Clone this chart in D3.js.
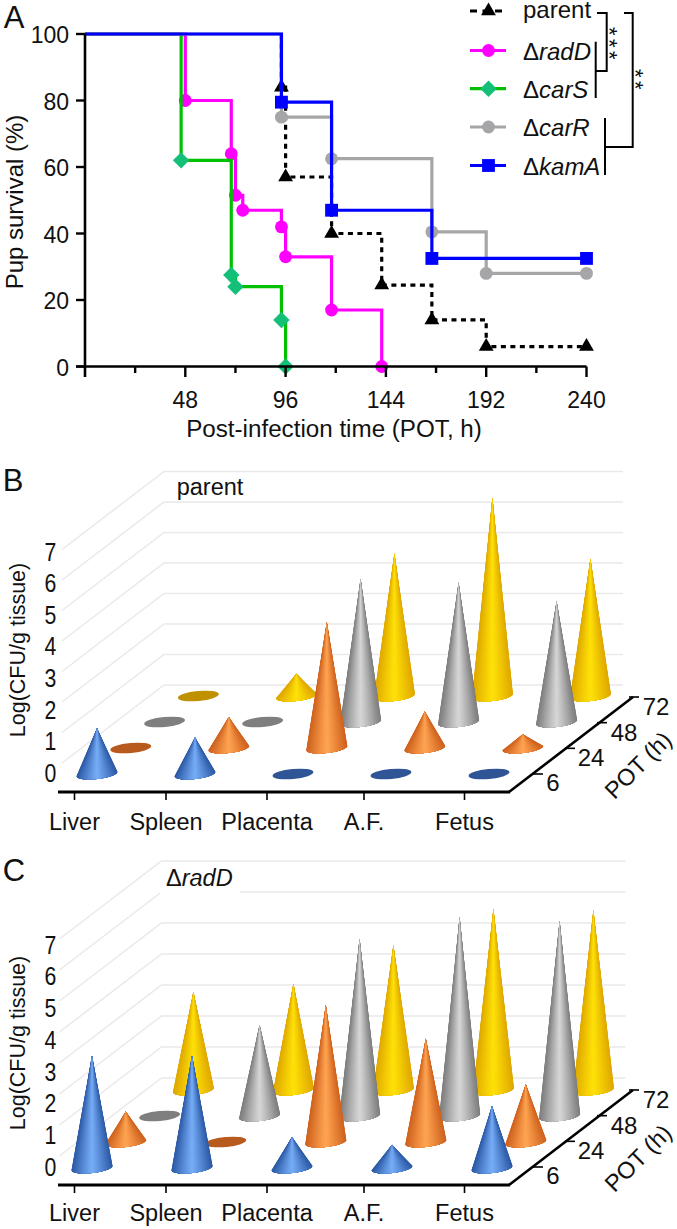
<!DOCTYPE html>
<html><head><meta charset="utf-8">
<script src="https://cdn.jsdelivr.net/npm/d3@7/dist/d3.min.js"></script>
<style>html,body{margin:0;background:#fff}svg{display:block}text{font-family:"Liberation Sans",Arial,sans-serif;fill:#111}</style>
</head><body><svg id="c" width="677" height="1229"></svg>
<script>
// Panel A data (hours, % survival)
const parentT=[94,96,118,142,166,192,240], parentS=[84,57,40,24.5,14,6,6];
const radDT=[48,70,72,75.5,94,96,118,142], radDS=[80,64,51.5,47,42,33,17,0];
const carST=[46,70,72,94,96], carSS=[62,27.5,24,14,0];
const carRT=[94,118,166,192,240], carRS=[75,62.5,40.5,28,28];
const kamAT=[94,118,166,240], kamAS=[79.5,47,32.5,32.5];
const xTicksA=[24,48,72,96,120,144,168,192,216,240];
const xLabelsA=[48,96,144,192,240];
const yTicksA=[0,20,40,60,80,100];
// Panels B, C
const tissues=["Liver","Spleen","Placenta","A.F.","Fetus"];
const potHours=[6,24,48,72];
const logTicks=[0,1,2,3,4,5,6,7];
const parent6=[1.5,1.2,0,0,0], parent24=[0,1.02,4.13,1.2,0.45], parent48=[0,0,4.7,4.57,3.96], parent72=[0,0.73,4.67,6.5,4.5];
const radD6=[3.63,3.63,1.0,0.75,2.0], radD24=[0.98,0,4.42,3.34,1.86], radD48=[0,2.94,5.72,6.42,6.3], radD72=[3.17,3.43,4.67,5.85,5.8];

const svg=d3.select("#c");
function label(s,x,y,size,opt={}){
  const t=svg.append("text").attr("font-size",size).attr("text-anchor",opt.anchor||"middle").attr("dy",".35em")
    .attr("transform",`translate(${x},${y})`+(opt.rot?` rotate(${opt.rot})`:"")+(opt.sx?` scale(${opt.sx},1)`:"")).text(s);
  if(opt.spacing) t.attr("letter-spacing",opt.spacing);
  return t;
}
function deltaLabel(s,x,y,size,anchor){
  const t=svg.append("text").attr("x",x).attr("y",y).attr("dy",".35em").attr("font-size",size).attr("text-anchor",anchor||"start");
  t.append("tspan").text("Δ"); t.append("tspan").attr("font-style","italic").text(s);
}
function seg(x1,y1,x2,y2,w,c,dash){svg.append("line").attr("x1",x1).attr("y1",y1).attr("x2",x2).attr("y2",y2).attr("stroke",c||"#000").attr("stroke-width",w).attr("stroke-dasharray",dash||null);}

// ---- Panel A
const x=d3.scaleLinear([0,240],[85,586.5]), y=d3.scaleLinear([0,100],[366.5,34]);
const sq=d3.symbolSquare;
const series=[
 {n:"parent",T:parentT,S:parentS,c:"#000",m:"#000",sym:d3.symbolTriangle,sz:95,dash:"5,4.5",ly:11},
 {n:"radD",T:radDT,S:radDS,c:"#ff00ff",m:"#ff00ff",sym:d3.symbolCircle,sz:130,ly:50.5},
 {n:"carS",T:carST,S:carSS,c:"#00c000",m:"#14bf78",sym:sq,sz:135,rot:45,ly:88.7},
 {n:"carR",T:carRT,S:carRS,c:"#a6a6a8",m:"#a6a6a8",sym:d3.symbolCircle,sz:130,ly:127},
 {n:"kamA",T:kamAT,S:kamAS,c:"#0000ff",m:"#0000ff",sym:sq,sz:165,ly:165.5}];
const step=d3.line().curve(d3.curveStepAfter).x(d=>x(d[0])).y(d=>y(d[1]));
series.forEach(s=>{
  const pts=[[s.dash?s.T[0]:0,100]].concat(s.T.map((t,i)=>[t,s.S[i]]));
  const r=s.rot?` rotate(${s.rot})`:"";
  svg.append("path").attr("d",step(pts)).attr("fill","none").attr("stroke",s.c).attr("stroke-width",3.2).attr("stroke-dasharray",s.dash||null);
  s.T.forEach((t,i)=>svg.append("path").attr("d",d3.symbol(s.sym,s.sz)()).attr("fill",s.m).attr("transform",`translate(${x(t)},${y(s.S[i])})${r}`));
  seg(470,s.ly,506,s.ly,3.2,s.c,s.dash?"7,5.5":null);
  svg.append("path").attr("d",d3.symbol(s.sym,s.sz)()).attr("fill",s.m).attr("transform",`translate(488.5,${s.ly})${r}`);
  if(s.n==="parent") label("parent",523,10,24,{anchor:"start"}); else deltaLabel(s.n,523,s.ly+1,24);
});
// axes
seg(85,34,85,377,2.6); seg(76,366.5,586.5,366.5,2.6);
yTicksA.forEach(v=>{seg(76,y(v),85,y(v),2.4);label(v,69,y(v)+1,23,{anchor:"end"});});
xTicksA.forEach(v=>seg(x(v),366.5,x(v),xLabelsA.includes(v)?377:373,2.4));
xLabelsA.forEach(v=>label(v,x(v),400,23));
label("Post-infection time (POT, h)",334,429,24.2);
label("Pup survival (%)",15,202,24,{rot:-90});
label("A",14,17,31);
// brackets
svg.append("path").attr("d","M597,13H606.7V71H596").attr("fill","none").attr("stroke","#000").attr("stroke-width",2);
seg(595.7,41.7,595.7,98,2);
svg.append("path").attr("d","M624,13H632.7V147H605").attr("fill","none").attr("stroke","#000").attr("stroke-width",2);
seg(605,118,605,175,2);
label("***",610,45,22,{rot:90,spacing:3.5});
label("**",636,81,22,{rot:90,spacing:3.5});

// ---- 3-D panels
const conePalette=[
 {edge:"#2c5aa6",mid:"#78aef8",disc:"#2f5597"},
 {edge:"#cf621e",mid:"#ffa552",disc:"#b85a1e"},
 {edge:"#7d7d7d",mid:"#d8d8d8",disc:"#7f7f7f"},
 {edge:"#dfa800",mid:"#ffe208",disc:"#bf9000"}];
const wedgeLevels=d3.range(24).map(i=>(1-i/24)*Math.PI/2);
function cone(X,Y,H,pal){
  const r=20.5, ry=5, tl=2.2;
  const colour=d3.interpolateRgb(pal.mid,pal.edge);
  const pt=th=>[X+r*Math.cos(th), Y+ry*Math.sin(th)-tl*Math.cos(th)];
  wedgeLevels.forEach(phi=>{
    const arc=d3.range(0,13).map(k=>pt(Math.PI/2-phi+2*phi*k/12));
    svg.append("path").attr("d",`M${X},${Y-H}L${arc.join("L")}Z`).attr("fill",colour(Math.pow(Math.sin(phi),1.15)));
  });
}
function panel(P){
  const gridY=d3.scaleLinear([0,7],P.gridRange);
  logTicks.forEach(v=>{
    const yy=gridY(v);
    svg.append("path").attr("d",`M${P.gridL-102},${yy+78}L${P.gridL},${yy}H${P.gridR}`).attr("fill","none").attr("stroke","#e9e9e9").attr("stroke-width",1.5);
  });
  const h=d3.scaleLinear([0,1],[0,P.unit]);
  const cx=d3.scalePoint(tissues,[P.x0,P.x0+4*P.step]);
  const rowX=d3.scalePoint(potHours,[0,3*33.8]);
  const rowY=d3.scalePoint(potHours,[P.base,P.base-78]);
  if(P.title) P.title();
  potHours.map((hr,i)=>[hr,i]).reverse().forEach(([hr,i])=>{
    const pal=conePalette[i];
    tissues.forEach((t,j)=>{
      const v=P.rows[i][j], X=cx(t)+rowX(hr), Y=rowY(hr);
      if(v===0) svg.append("ellipse").attr("rx",20.5).attr("ry",5).attr("fill",pal.disc).attr("transform",`translate(${X},${Y}) rotate(-5.5)`);
      else cone(X,Y,h(v),pal);
    });
  });
  // axes
  seg(58,P.axisY,510,P.axisY,2.8);
  seg(509,P.axisY,633,P.axisY-95,2.6);
  const tickX=d3.scaleOrdinal(tissues,[74.5,166,267,364,464.5]);
  tissues.forEach(t=>{seg(tickX(t),P.axisY,tickX(t),P.axisY+8,1.6);label(t,tickX(t),P.axisY+P.catDy,23.5);});
  const dX=d3.scalePoint(potHours,[537,633]), dY=d3.scalePoint(potHours,[P.axisY-18,P.axisY-95]);
  const lblY=d3.scalePoint(potHours,[P.axisY-9,P.axisY-85]);
  potHours.forEach(hr=>{seg(dX(hr)-4,dY(hr),dX(hr)+6,dY(hr),1.6);label(hr,dX(hr)+(hr===6?16:(hr===24?22:23)),lblY(hr),24);});
  label("POT (h)",638,P.axisY-27,23.5,{rot:-45});
  const ly=d3.scaleLinear([0,7],P.labelRange);
  logTicks.forEach(v=>label(v,50.5,ly(v),25,{sx:.85}));
  label("Log(CFU/g tissue)",17,P.ttlY,21.5,{rot:-90});
}
panel({gridRange:[685,471.5],gridL:164,gridR:623,unit:30.5,x0:97,step:98,base:774,axisY:792,catDy:30,
  rows:[parent6,parent24,parent48,parent72],labelRange:[773,552],ttlY:650,
  title(){label("parent",210,487,23.5);}});
panel({gridRange:[1078,861],gridL:161.5,gridR:625.5,unit:31,x0:92,step:100,base:1168,axisY:1185,catDy:28,
  rows:[radD6,radD24,radD48,radD72],labelRange:[1167,945],ttlY:1043,
  title(){svg.append("rect").attr("x",160).attr("y",865).attr("width",80).attr("height",30).attr("fill","#fff");deltaLabel("radD",166,878,23.5);}});
label("B",13,480,31);
label("C",14,870,31);
</script></body></html>
